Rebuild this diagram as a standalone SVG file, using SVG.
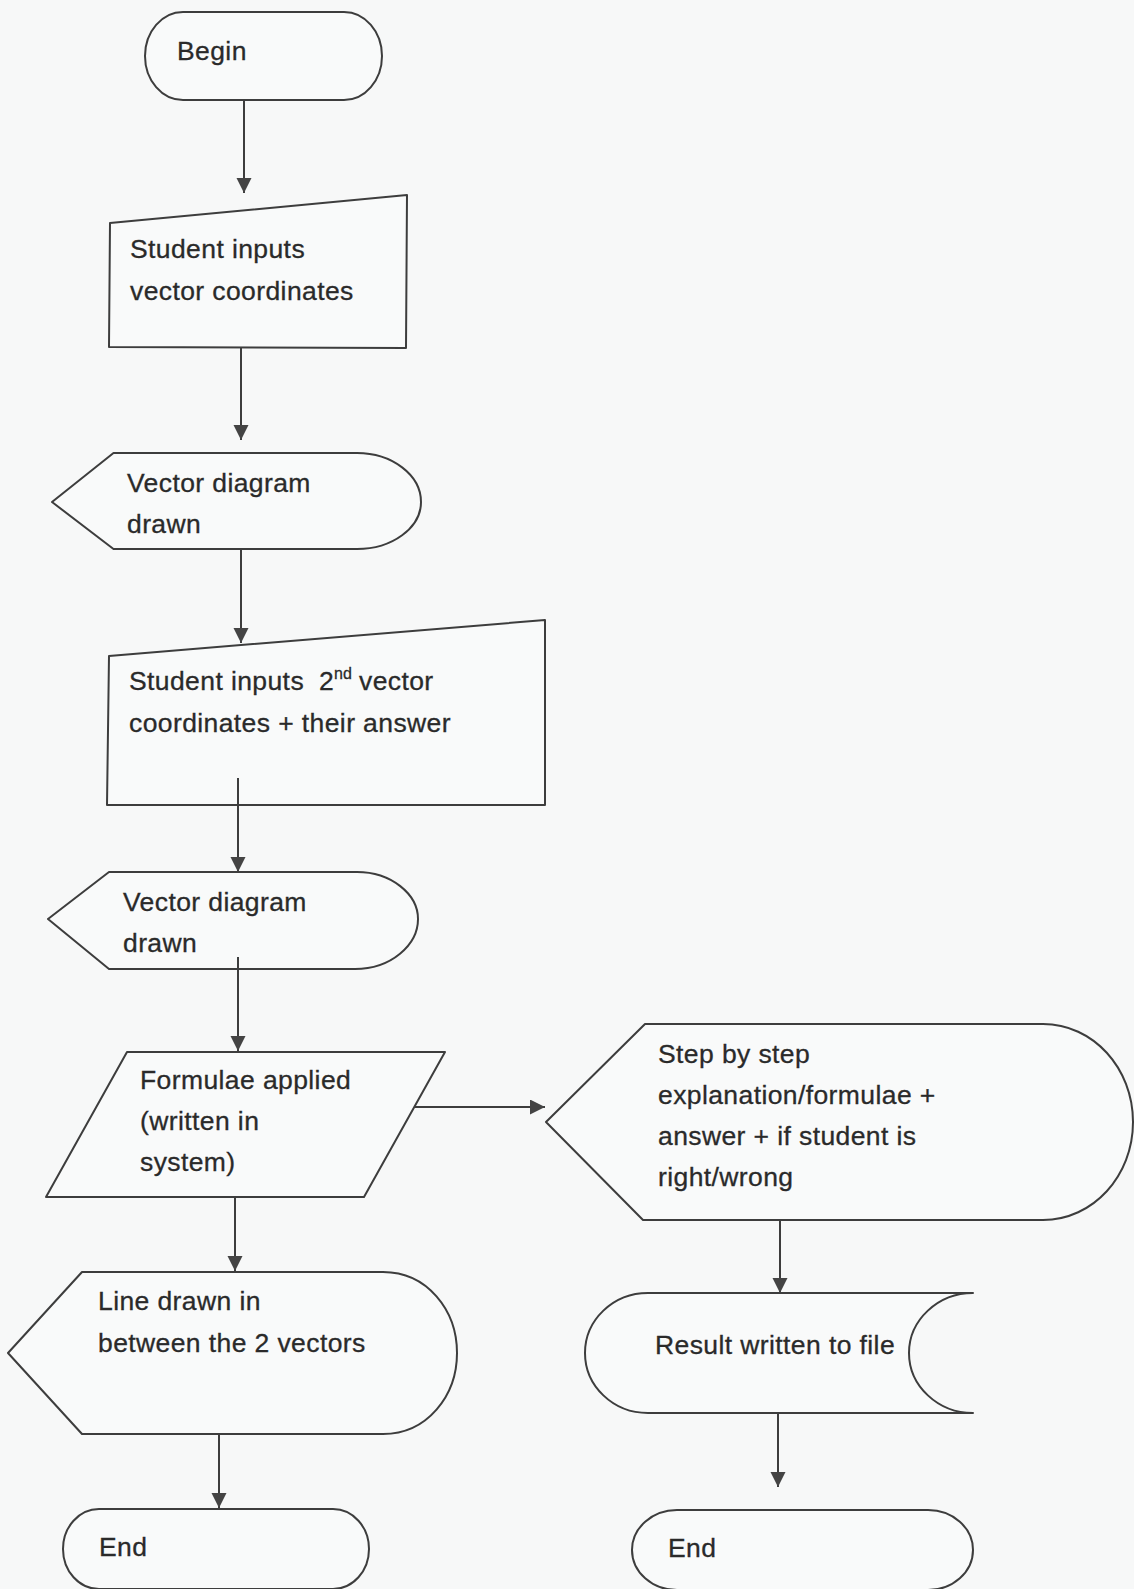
<svg xmlns="http://www.w3.org/2000/svg" width="1134" height="1589" viewBox="0 0 1134 1589">
  <style>
    .shape { fill: #f9fafa; stroke: #3d3d3d; stroke-width: 2; stroke-linejoin: round; }
    .label { font-family: "Liberation Sans", Arial, sans-serif; font-size: 26.5px; letter-spacing: 0.4px; fill: #2a2a2a; stroke: #2a2a2a; stroke-width: 0.3px; }
    .sup { font-size: 16px; letter-spacing: 0; }
    .flow { fill: none; stroke: #3d3d3d; stroke-width: 2; marker-end: url(#arrow); }
  </style>
  <defs>
    <marker id="arrow" markerUnits="userSpaceOnUse" markerWidth="16" markerHeight="16" refX="15" refY="7.5" orient="auto">
      <path d="M0,0 L15,7.5 L0,15 Z" fill="#444"/>
    </marker>
  </defs>

  <rect width="1134" height="1589" fill="#f7f8f8"/>

  <!-- Start terminator -->
  <g id="begin">
    <rect class="shape" x="145" y="12" width="237" height="88" rx="38" ry="44"/>
    <text class="label" x="177" y="60">Begin</text>
  </g>

  <!-- First manual input -->
  <g id="input1">
    <polygon class="shape" points="110,223 407,195 406,348 109,347"/>
    <text class="label" x="130" y="258">Student inputs</text>
    <text class="label" x="130" y="300">vector coordinates</text>
  </g>

  <!-- First display -->
  <g id="display1">
    <path class="shape" d="M52,502 L113.5,453 L357,453 C392,453 421,475 421,502 C421,528 392,549 357,549 L113.5,549 Z"/>
    <text class="label" x="127" y="492">Vector diagram</text>
    <text class="label" x="127" y="533">drawn</text>
  </g>

  <!-- Second manual input -->
  <g id="input2">
    <polygon class="shape" points="109,656 545,620 545,805 107,805"/>
    <text class="label" x="129" y="690">Student inputs<tspan x="319">2</tspan><tspan class="sup" x="334" dy="-11">nd</tspan><tspan x="359" dy="11">vector</tspan></text>
    <text class="label" x="129" y="732">coordinates + their answer</text>
  </g>

  <!-- Second display -->
  <g id="display2">
    <path class="shape" d="M48,919 L109,872 L357,872 C391,872 418,894 418,919 C418,945 391,969 355,969 L109,969 Z"/>
    <text class="label" x="123" y="911">Vector diagram</text>
    <text class="label" x="123" y="952">drawn</text>
  </g>

  <!-- Processing step (parallelogram) -->
  <g id="formulae">
    <polygon class="shape" points="127,1052 445,1052 364,1197 46,1197"/>
    <text class="label" x="140" y="1089">Formulae applied</text>
    <text class="label" x="140" y="1130">(written in</text>
    <text class="label" x="140" y="1171">system)</text>
  </g>

  <!-- Explanation display -->
  <g id="explanation">
    <path class="shape" d="M546,1122 L645,1024 L1043,1024 C1093,1024 1133,1068 1133,1122 C1133,1176 1093,1220 1043,1220 L643,1220 Z"/>
    <text class="label" x="658" y="1063">Step by step</text>
    <text class="label" x="658" y="1104">explanation/formulae +</text>
    <text class="label" x="658" y="1145">answer + if student is</text>
    <text class="label" x="658" y="1186">right/wrong</text>
  </g>

  <!-- Line display -->
  <g id="linedrawn">
    <path class="shape" d="M8,1353 L82,1272 L383,1272 C427,1272 457,1310 457,1353 C457,1396 427,1434 383,1434 L82,1434 Z"/>
    <text class="label" x="98" y="1310">Line drawn in</text>
    <text class="label" x="98" y="1352">between the 2 vectors</text>
  </g>

  <!-- Stored data -->
  <g id="result">
    <path class="shape" d="M973,1293 L648,1293 C613,1293 585,1320 585,1353 C585,1386 613,1413 648,1413 L973,1413 C938,1413 909,1386 909,1353 C909,1320 938,1293 973,1293 Z"/>
    <text class="label" x="655" y="1354">Result written to file</text>
  </g>

  <!-- End terminators -->
  <g id="end1">
    <rect class="shape" x="63" y="1509" width="306" height="80" rx="36" ry="40"/>
    <text class="label" x="99" y="1556">End</text>
  </g>
  <g id="end2">
    <rect class="shape" x="632" y="1510" width="341" height="80" rx="45" ry="40"/>
    <text class="label" x="668" y="1557">End</text>
  </g>

  <!-- Connectors -->
  <g id="connectors">
    <line class="flow" x1="244" y1="100" x2="244" y2="193"/>
    <line class="flow" x1="241" y1="348" x2="241" y2="440"/>
    <line class="flow" x1="241" y1="549" x2="241" y2="643"/>
    <line class="flow" x1="238" y1="778" x2="238" y2="872"/>
    <line class="flow" x1="238" y1="957" x2="238" y2="1051"/>
    <line class="flow" x1="414" y1="1107" x2="545" y2="1107"/>
    <line class="flow" x1="235" y1="1197" x2="235" y2="1271"/>
    <line class="flow" x1="219" y1="1434" x2="219" y2="1508"/>
    <line class="flow" x1="780" y1="1220" x2="780" y2="1293"/>
    <line class="flow" x1="778" y1="1413" x2="778" y2="1487"/>
  </g>
</svg>
